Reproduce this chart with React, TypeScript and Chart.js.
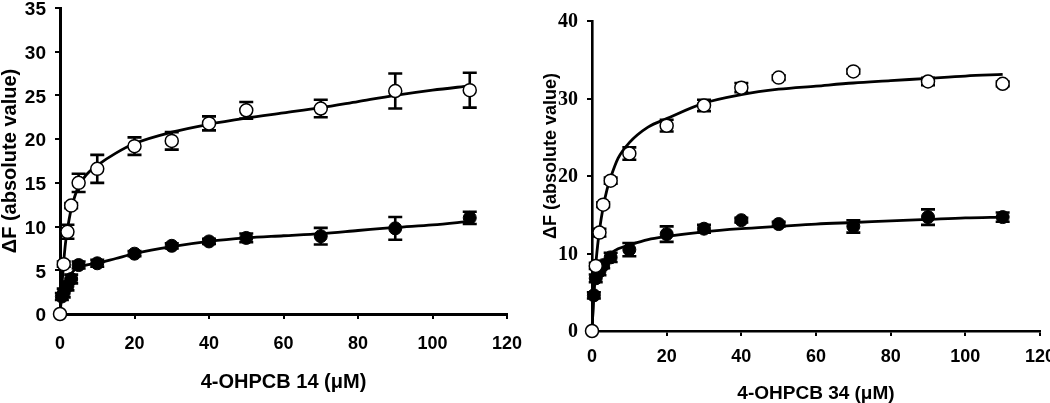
import React, { useEffect, useRef } from 'react';
import { Chart, registerables } from 'chart.js';
Chart.register(...registerables);

// ---------- Left panel: 4-OHPCB 14 ----------
const L_OPEN_X = [0, 1, 2, 3, 5, 10, 20, 30, 40, 50, 70, 90, 110];
const L_OPEN_Y = [0, 5.7, 9.4, 12.4, 15.0, 16.6, 19.2, 19.8, 21.8, 23.3, 23.5, 25.5, 25.6];
const L_OPEN_ERR = [0, 0.3, 0.8, 0.3, 1.05, 1.6, 1.0, 1.0, 0.8, 0.95, 1.0, 2.0, 2.0];
const L_FILL_X = [0.5, 1, 2, 3, 5, 10, 20, 30, 40, 50, 70, 90, 110];
const L_FILL_Y = [2.0, 2.4, 3.2, 4.0, 5.6, 5.8, 6.9, 7.8, 8.3, 8.7, 8.9, 9.8, 11.0];
const L_FILL_ERR = [0.4, 0.5, 0.5, 0.5, 0.4, 0.4, 0.3, 0.3, 0.3, 0.5, 0.95, 1.3, 0.7];
const L_FIT_X = [0, 0.5, 1, 1.5, 2, 3, 4, 5, 7, 10, 15, 20, 30, 40, 50, 60, 70, 80, 90, 100, 110];
const L_OPEN_FIT = [0, 3.2, 6.0, 8.2, 9.7, 12.0, 13.5, 14.6, 15.9, 17.0, 18.4, 19.5, 20.8, 21.7, 22.4, 23.0, 23.6, 24.3, 25.0, 25.6, 26.1];
const L_FILL_FIT = [0, 2.2, 3.0, 3.5, 4.0, 4.6, 5.1, 5.4, 5.6, 5.8, 6.35, 6.9, 7.7, 8.3, 8.7, 8.95, 9.2, 9.55, 9.9, 10.2, 10.6];
const L_X_TITLE = '4-OHPCB 14 (\u03BCM)';

// ---------- Right panel: 4-OHPCB 34 ----------
const R_OPEN_X = [0, 1, 2, 3, 5, 10, 20, 30, 40, 50, 70, 90, 110];
const R_OPEN_Y = [0, 8.4, 12.7, 16.3, 19.4, 22.9, 26.5, 29.1, 31.4, 32.7, 33.5, 32.2, 31.9];
const R_OPEN_ERR = [0, 0.4, 0.5, 0.3, 0.4, 0.8, 0.75, 0.73, 0.6, 0.3, 0.3, 0.47, 0.3];
const R_FILL_X = [0.5, 1, 2, 3, 5, 10, 20, 30, 40, 50, 70, 90, 110];
const R_FILL_Y = [4.6, 6.8, 7.7, 8.5, 9.5, 10.5, 12.5, 13.2, 14.3, 13.8, 13.5, 14.7, 14.7];
const R_FILL_ERR = [0.4, 0.5, 0.5, 0.4, 0.6, 0.86, 1.0, 0.5, 0.3, 0.3, 0.8, 1.0, 0.6];
const R_FIT_X = [0, 0.5, 1, 1.5, 2, 3, 4, 5, 7, 10, 15, 20, 30, 40, 50, 60, 70, 80, 90, 100, 110];
const R_OPEN_FIT = [0, 5.0, 8.5, 11.0, 13.0, 16.0, 18.2, 19.8, 22.3, 24.3, 26.3, 27.4, 29.4, 30.5, 31.2, 31.6, 32.0, 32.3, 32.6, 32.9, 33.1];
const R_FILL_FIT = [0, 5.0, 6.8, 7.6, 8.2, 9.0, 9.6, 10.0, 10.6, 11.1, 11.8, 12.2, 12.8, 13.2, 13.5, 13.8, 14.0, 14.2, 14.4, 14.6, 14.7];
const R_X_TITLE = '4-OHPCB 34 (\u03BCM)';

const Y_TITLE = '\u0394F (absolute value)';

const pts = (xs: number[], ys: number[]) => xs.map((x, i) => ({ x, y: ys[i] }));

const errorBars = {
  id: 'errorBars',
  beforeDatasetsDraw(chart: any) {
    const ctx = chart.ctx;
    const ys = chart.scales.y;
    chart.data.datasets.forEach((ds: any, di: number) => {
      if (!ds.errors) return;
      const meta = chart.getDatasetMeta(di);
      ctx.save();
      ctx.strokeStyle = '#000';
      ctx.lineWidth = 2.6;
      meta.data.forEach((el: any, i: number) => {
        const e = ds.errors[i];
        if (!e) return;
        const v = ds.data[i].y;
        const top = ys.getPixelForValue(v + e);
        const bot = ys.getPixelForValue(v - e);
        const x = el.x;
        const hw = 7;
        ctx.beginPath();
        ctx.moveTo(x, top); ctx.lineTo(x, bot);
        ctx.moveTo(x - hw, top); ctx.lineTo(x + hw, top);
        ctx.moveTo(x - hw, bot); ctx.lineTo(x + hw, bot);
        ctx.stroke();
      });
      ctx.restore();
    });
  },
};

type PanelCfg = {
  openX: number[]; openY: number[]; openErr: number[];
  fillX: number[]; fillY: number[]; fillErr: number[];
  fitX: number[]; openFit: number[]; fillFit: number[];
  yMax: number; yStep: number;
  yTickFont: any; xTickFont: any;
  xTitle: string; yTitle: string; xTitleFont: any; yTitleFont: any;
  yWidth: number; xHeight: number; padTop: number; padRight: number;
  yTitlePad: number; xTitlePad: number; xTickPad: number; yTickPad: number;
  yLabelOffset: number; axisWidth: number;
};

function makeConfig(p: PanelCfg): any {
  const line = (data: any[]) => ({
    data, showLine: true, pointRadius: 0, borderColor: '#000', borderWidth: 2.8,
    cubicInterpolationMode: 'monotone', fill: false, order: 10, clip: false,
  });
  return {
    type: 'scatter',
    data: {
      datasets: [
        line(pts(p.fitX, p.openFit)),
        line(pts(p.fitX, p.fillFit)),
        {
          data: pts(p.fillX, p.fillY), errors: p.fillErr, showLine: false,
          pointRadius: 6.5, pointBackgroundColor: '#000', pointBorderColor: '#000', pointBorderWidth: 1,
          order: 5, clip: false,
        },
        {
          data: pts(p.openX, p.openY), errors: p.openErr, showLine: false,
          pointRadius: 6.5, pointBackgroundColor: '#fff', pointBorderColor: '#000', pointBorderWidth: 1.5,
          order: 1, clip: false,
        },
      ],
    },
    options: {
      responsive: false,
      animation: false,
      layout: { padding: { left: 0, top: p.padTop, right: p.padRight, bottom: 0 } },
      plugins: { legend: { display: false }, tooltip: { enabled: false } },
      scales: {
        x: {
          type: 'linear', min: 0, max: 120,
          ticks: { stepSize: 20, color: '#000', font: p.xTickFont, padding: p.xTickPad, maxRotation: 0 },
          grid: { display: true, drawOnChartArea: false, drawTicks: true, tickLength: 5, color: '#000', lineWidth: 2 },
          border: { display: true, color: '#000', width: p.axisWidth },
          title: { display: true, text: p.xTitle, color: '#000', font: p.xTitleFont, padding: { top: 0, bottom: p.xTitlePad } },
          afterFit: (s: any) => { s.height = p.xHeight; s.paddingLeft = 0; s.paddingRight = 0; },
        },
        y: {
          type: 'linear', min: 0, max: p.yMax,
          ticks: { stepSize: p.yStep, color: '#000', font: p.yTickFont, padding: p.yTickPad, labelOffset: p.yLabelOffset },
          grid: { display: true, drawOnChartArea: false, drawTicks: true, tickLength: 5, color: '#000', lineWidth: 2 },
          border: { display: true, color: '#000', width: p.axisWidth },
          title: { display: true, text: p.yTitle, color: '#000', font: p.yTitleFont, padding: { top: p.yTitlePad, bottom: 0 } },
          afterFit: (s: any) => { s.width = p.yWidth; s.paddingTop = 0; s.paddingBottom = 0; },
        },
      },
    },
    plugins: [errorBars],
  };
}

const SANS = 'Liberation Sans, Arial, sans-serif';
const SERIF = 'Liberation Serif, Times New Roman, serif';

const LEFT: PanelCfg = {
  openX: L_OPEN_X, openY: L_OPEN_Y, openErr: L_OPEN_ERR,
  fillX: L_FILL_X, fillY: L_FILL_Y, fillErr: L_FILL_ERR,
  fitX: L_FIT_X, openFit: L_OPEN_FIT, fillFit: L_FILL_FIT,
  yMax: 35, yStep: 5,
  yTickFont: { family: SANS, size: 19, weight: 'bold' },
  xTickFont: { family: SANS, size: 18, weight: 'bold' },
  xTitle: L_X_TITLE, yTitle: Y_TITLE,
  xTitleFont: { family: SANS, size: 20, weight: 'bold', lineHeight: 1 },
  yTitleFont: { family: SANS, size: 20, weight: 'bold', lineHeight: 1 },
  yWidth: 60, xHeight: 89, padTop: 8, padRight: 18,
  yTitlePad: 0, xTitlePad: 11, xTickPad: 14, yTickPad: 9, yLabelOffset: 2, axisWidth: 3,
};

const RIGHT: PanelCfg = {
  openX: R_OPEN_X, openY: R_OPEN_Y, openErr: R_OPEN_ERR,
  fillX: R_FILL_X, fillY: R_FILL_Y, fillErr: R_FILL_ERR,
  fitX: R_FIT_X, openFit: R_OPEN_FIT, fillFit: R_FILL_FIT,
  yMax: 40, yStep: 10,
  yTickFont: { family: SERIF, size: 20, weight: 'bold' },
  xTickFont: { family: SANS, size: 18, weight: 'bold' },
  xTitle: R_X_TITLE, yTitle: '        ' + Y_TITLE,
  xTitleFont: { family: SANS, size: 19, weight: 'bold', lineHeight: 1 },
  yTitleFont: { family: SANS, size: 18, weight: 'bold', lineHeight: 1 },
  yWidth: 67, xHeight: 72, padTop: 21, padRight: 10,
  yTitlePad: 17, xTitlePad: 0, xTickPad: 10, yTickPad: 9, yLabelOffset: 1, axisWidth: 2.6,
};

function Panel({ cfg, left, width }: { cfg: PanelCfg; left: number; width: number }) {
  const ref = useRef<HTMLCanvasElement>(null);
  useEffect(() => {
    if (!ref.current) return;
    const chart = new Chart(ref.current, makeConfig(cfg));
    return () => chart.destroy();
  }, [cfg]);
  return (
    <canvas
      ref={ref}
      width={width}
      height={403}
      style={{ position: 'absolute', left, top: 0, width, height: 403 }}
    />
  );
}

export default function App() {
  return (
    <div style={{ position: 'absolute', left: 0, top: 0, width: 1050, height: 403, background: '#fff' }}>
      <Panel cfg={LEFT} left={0} width={525} />
      <Panel cfg={RIGHT} left={525} width={525} />
    </div>
  );
}
